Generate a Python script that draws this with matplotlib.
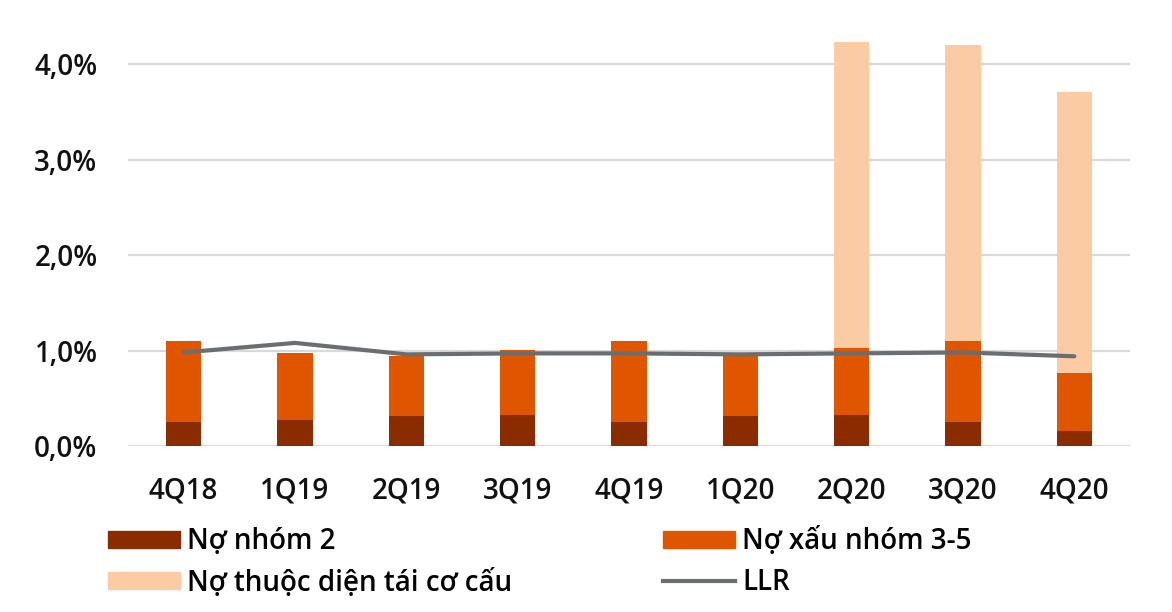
import numpy as np
import matplotlib
matplotlib.use("Agg")
import matplotlib.pyplot as plt
from matplotlib.patches import Patch
from matplotlib.lines import Line2D

plt.rcParams['font.family'] = ['Open Sans', 'DejaVu Sans']
plt.rcParams['font.weight'] = 'semibold'

# du lieu doc tu hinh (% du no)
quy = ['4Q18', '1Q19', '2Q19', '3Q19', '4Q19', '1Q20', '2Q20', '3Q20', '4Q20']
no_nhom2 = [0.25, 0.27, 0.31, 0.33, 0.25, 0.31, 0.33, 0.25, 0.16]
no_xau = [0.85, 0.70, 0.63, 0.68, 0.85, 0.64, 0.70, 0.85, 0.61]
tai_co_cau = [0, 0, 0, 0, 0, 0, 3.20, 3.10, 2.94]
llr = [0.98, 1.08, 0.96, 0.97, 0.97, 0.96, 0.97, 0.98, 0.94]
y_ticks = [0, 1, 2, 3, 4]
y_labels = ['0,0%', '1,0%', '2,0%', '3,0%', '4,0%']

c_nhom2 = '#8a2c00'
c_xau = '#e05500'
c_tcc = '#fbcba4'
c_llr = '#6b6e70'

fig = plt.figure(figsize=(11.72, 6.12), dpi=100)
ax = fig.add_axes([128/1172, 1 - 446/612, (1130-128)/1172, (446-26)/612])

x = np.arange(len(quy))
w = 0.315
base2 = np.array(no_nhom2) + np.array(no_xau)
ax.bar(x, no_nhom2, w, color=c_nhom2, zorder=2)
ax.bar(x, no_xau, w, bottom=no_nhom2, color=c_xau, zorder=2)
ax.bar(x, tai_co_cau, w, bottom=base2, color=c_tcc, zorder=2)
ax.plot(x, llr, color=c_llr, lw=3, solid_capstyle='round', zorder=3)

ax.set_xlim(-0.5, len(quy) - 0.5)
ax.set_ylim(0, 4.4)
ax.set_yticks(y_ticks)
ax.set_yticklabels(y_labels)
ax.set_xticks(x)
ax.set_xticklabels(quy)
ax.grid(axis='y', color='#d9d9d9', lw=1.6, zorder=0)
ax.tick_params(length=0, labelsize=20, colors='#111111')
ax.tick_params(axis='y', pad=22)
ax.tick_params(axis='x', pad=22)
for s in ax.spines.values():
    s.set_visible(False)

# chu thich: hai cot dat rieng
kw = dict(frameon=False, fontsize=20, handlelength=2.6, handleheight=0.55,
          handletextpad=0.25, labelspacing=0.45, borderpad=0, borderaxespad=0,
          loc='upper left')
h1 = [Patch(color=c_nhom2), Patch(color=c_tcc)]
fig.legend(h1, ['Nợ nhóm 2', 'Nợ thuộc diện tái cơ cấu'],
           bbox_to_anchor=(108/1172, 1 - 527/612), **kw)
h2 = [Patch(color=c_xau), Line2D([], [], color=c_llr, lw=3)]
fig.legend(h2, ['Nợ xấu nhóm 3-5', 'LLR'],
           bbox_to_anchor=(663/1172, 1 - 527/612), **kw)

fig.savefig('out.png', dpi=100)
